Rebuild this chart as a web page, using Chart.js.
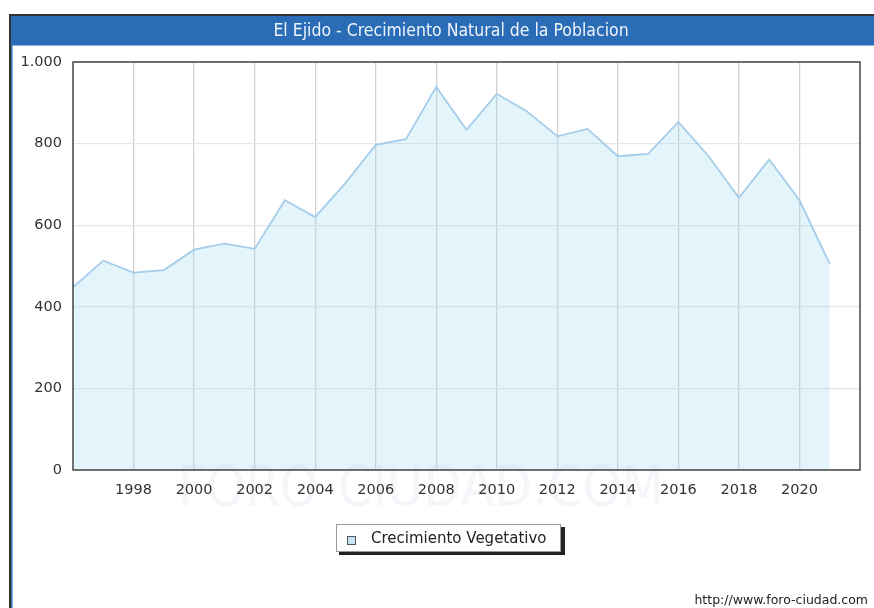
<!DOCTYPE html>
<html>
<head>
<meta charset="utf-8">
<script src="https://cdn.jsdelivr.net/npm/chart.js@4/dist/chart.umd.min.js"></script>
<style>
  html, body { margin: 0; padding: 0; background: #fff; }
  #wrap { width: 874px; height: 608px; position: relative; }
</style>
</head>
<body>
<div id="wrap"><canvas id="myChart" width="874" height="608"></canvas></div>
<script>
var years = [1996, 1997, 1998, 1999, 2000, 2001, 2002, 2003, 2004, 2005, 2006, 2007, 2008,
             2009, 2010, 2011, 2012, 2013, 2014, 2015, 2016, 2017, 2018, 2019, 2020, 2021];
var values = [448, 513, 484, 490, 540, 555, 542, 661, 620, 703, 797, 811, 939,
              834, 922, 879, 818, 836, 769, 775, 853, 769, 667, 761, 661, 505];
var seriesName = "Crecimiento Vegetativo";
var chartTitle = "El Ejido - Crecimiento Natural de la Poblacion";
var yTicks = [0, 200, 400, 600, 800, 1000];

var points = years.map(function (y, i) { return {x: y, y: values[i]}; });

// frame, title bar, watermark, legend box and footer
var decor = {
  id: "decor",
  beforeDraw: function (chart) {
    var c = chart.ctx;
    c.save();
    c.fillStyle = "#fff";
    c.fillRect(0, 0, 874, 608);
    // outer frame
    c.fillStyle = "#333";
    c.fillRect(9, 14, 865, 2);
    c.fillRect(9, 14, 2, 594);
    c.fillStyle = "#2b6cb6";
    c.fillRect(11, 16, 863, 29.5);
    c.fillRect(11, 45, 1.5, 563);
    c.fillStyle = "#eef4fb";
    c.font = "17.5px 'DejaVu Sans Condensed', 'DejaVu Sans'";
    c.textAlign = "center";
    c.textBaseline = "middle";
    c.fillText(chartTitle, 451, 31);
    // watermark
    c.fillStyle = "#f5f5fa";
    c.font = "55px 'DejaVu Sans Condensed', 'DejaVu Sans'";
    c.fillText("FORO-CIUDAD.COM", 421, 491);
    c.restore();
  },
  afterDraw: function (chart) {
    var c = chart.ctx, a = chart.chartArea;
    c.save();
    c.strokeStyle = "#444";
    c.lineWidth = 1.5;
    c.strokeRect(a.left, a.top, a.right - a.left, a.bottom - a.top);
    // legend
    c.fillStyle = "#222";
    c.fillRect(339, 527, 226, 28);
    c.fillStyle = "#fff";
    c.fillRect(336, 524, 225, 28);
    c.strokeStyle = "#999";
    c.lineWidth = 1;
    c.strokeRect(336.5, 524.5, 224, 27);
    c.fillStyle = "#c4e6f6";
    c.fillRect(347, 536, 9, 9);
    c.strokeStyle = "#555";
    c.strokeRect(347.5, 536.5, 8, 8);
    c.fillStyle = "#222";
    c.font = "15px 'DejaVu Sans'";
    c.textAlign = "left";
    c.textBaseline = "middle";
    c.fillText(seriesName, 371, 539);
    // footer
    c.font = "12.5px 'DejaVu Sans'";
    c.textAlign = "right";
    c.fillText("http://www.foro-ciudad.com", 868, 601);
    c.restore();
  }
};

new Chart("myChart", {
  type: "line",
  data: {
    datasets: [{
      label: seriesName,
      data: points,
      borderColor: "#a4cdea",
      borderWidth: 1.8,
      backgroundColor: "rgba(162,218,242,0.3)",
      fill: "origin",
      pointRadius: 0,
      tension: 0
    }]
  },
  options: {
    responsive: false,
    animation: false,
    layout: {padding: {top: 62, right: 14, left: 0, bottom: 0}},
    plugins: {
      legend: {display: false},
      title: {display: false},
      tooltip: {enabled: false}
    },
    scales: {
      x: {
        type: "linear",
        min: 1996,
        max: 2022,
        afterBuildTicks: function (s) {
          s.ticks = years.filter(function (y) { return y % 2 === 0 && y > 1996; })
            .map(function (y) { return {value: y}; });
        },
        afterFit: function (s) { s.height = 138; },
        grid: {color: "#d2d2d2", lineWidth: 1.3, drawTicks: false},
        border: {display: false},
        ticks: {
          padding: 12,
          color: "#333",
          font: {family: "'DejaVu Sans'", size: 14.5},
          callback: function (v) { return String(v); }
        }
      },
      y: {
        min: 0,
        max: 1000,
        afterBuildTicks: function (s) {
          s.ticks = yTicks.map(function (v) { return {value: v}; });
        },
        afterFit: function (s) { s.width = 73; },
        grid: {color: "#e6e6e6", lineWidth: 1.3, drawTicks: false},
        border: {display: false},
        ticks: {
          padding: 11,
          color: "#333",
          font: {family: "'DejaVu Sans'", size: 14.5},
          callback: function (v) { return v === 1000 ? "1.000" : String(v); }
        }
      }
    }
  },
  plugins: [decor]
});
</script>
</body>
</html>
